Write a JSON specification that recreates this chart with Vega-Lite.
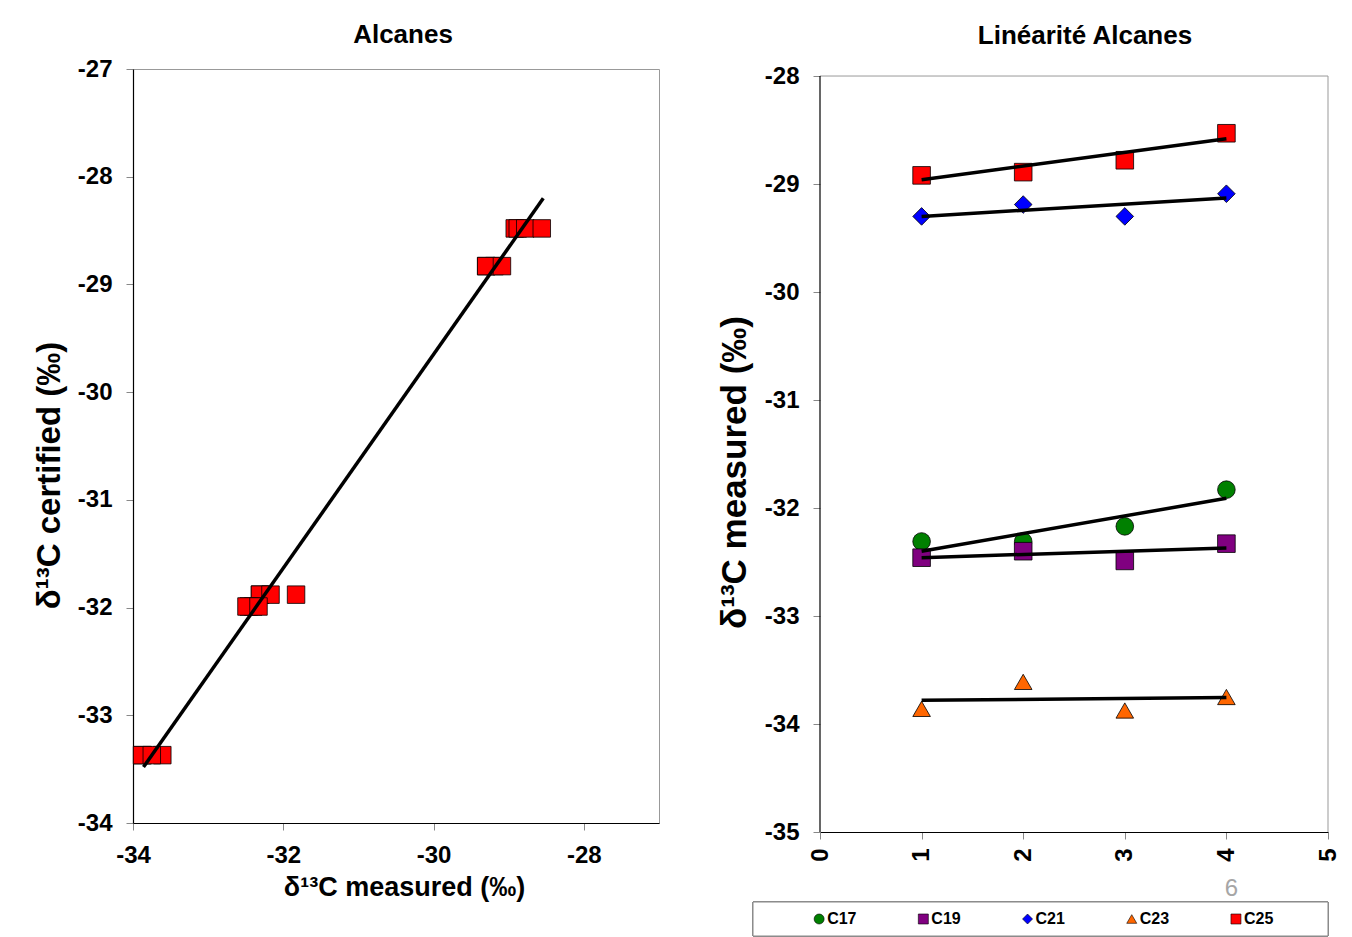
{
  "$schema": "https://vega.github.io/schema/vega-lite/v6.json",
  "background": "white",
  "padding": {"left": 32, "top": 21, "right": 0, "bottom": 0},
  "config": {
    "font": "Liberation Sans",
    "view": {"stroke": "#999999", "strokeWidth": 1},
    "title": {"fontSize": 26, "fontWeight": "bold", "color": "black", "font": "Liberation Sans"},
    "axis": {
      "grid": false,
      "labelFont": "Liberation Sans",
      "labelFontSize": 24,
      "labelFontWeight": "bold",
      "labelColor": "black",
      "labelFlush": false,
      "labelOverlap": false,
      "titleFont": "Liberation Sans",
      "titleFontSize": 27,
      "titleFontWeight": "bold",
      "titleColor": "black",
      "tickColor": "#888888",
      "tickSize": 7,
      "domainColor": "black",
      "domainWidth": 1.2,
      "labelExpr": "datum.value < 0 ? '-' + abs(datum.value) : '' + datum.value"
    }
  },
  "datasets": {
    "left": [
      {"series": "C25", "measured": -28.92, "certified": -28.48},
      {"series": "C25", "measured": -28.88, "certified": -28.48},
      {"series": "C25", "measured": -28.78, "certified": -28.48},
      {"series": "C25", "measured": -28.56, "certified": -28.48},
      {"series": "C21", "measured": -29.30, "certified": -28.83},
      {"series": "C21", "measured": -29.19, "certified": -28.83},
      {"series": "C21", "measured": -29.30, "certified": -28.83},
      {"series": "C21", "measured": -29.09, "certified": -28.83},
      {"series": "C17", "measured": -32.31, "certified": -31.88},
      {"series": "C17", "measured": -32.31, "certified": -31.88},
      {"series": "C17", "measured": -32.17, "certified": -31.88},
      {"series": "C17", "measured": -31.83, "certified": -31.88},
      {"series": "C19", "measured": -32.46, "certified": -31.99},
      {"series": "C19", "measured": -32.40, "certified": -31.99},
      {"series": "C19", "measured": -32.49, "certified": -31.99},
      {"series": "C19", "measured": -32.33, "certified": -31.99},
      {"series": "C23", "measured": -33.87, "certified": -33.37},
      {"series": "C23", "measured": -33.61, "certified": -33.37},
      {"series": "C23", "measured": -33.88, "certified": -33.37},
      {"series": "C23", "measured": -33.75, "certified": -33.37}
    ],
    "leftfit": [
      {"measured": -33.86, "certified": -33.48},
      {"measured": -28.54, "certified": -28.20}
    ],
    "right": [
      {"series": "C17", "level": 1, "measured": -32.31},
      {"series": "C17", "level": 2, "measured": -32.31},
      {"series": "C17", "level": 3, "measured": -32.17},
      {"series": "C17", "level": 4, "measured": -31.83},
      {"series": "C19", "level": 1, "measured": -32.46},
      {"series": "C19", "level": 2, "measured": -32.40},
      {"series": "C19", "level": 3, "measured": -32.49},
      {"series": "C19", "level": 4, "measured": -32.33},
      {"series": "C21", "level": 1, "measured": -29.30},
      {"series": "C21", "level": 2, "measured": -29.19},
      {"series": "C21", "level": 3, "measured": -29.30},
      {"series": "C21", "level": 4, "measured": -29.09},
      {"series": "C23", "level": 1, "measured": -33.86},
      {"series": "C23", "level": 2, "measured": -33.61},
      {"series": "C23", "level": 3, "measured": -33.875},
      {"series": "C23", "level": 4, "measured": -33.75},
      {"series": "C25", "level": 1, "measured": -28.92},
      {"series": "C25", "level": 2, "measured": -28.89},
      {"series": "C25", "level": 3, "measured": -28.78},
      {"series": "C25", "level": 4, "measured": -28.53}
    ],
    "rightfit": [
      {"series": "C17", "level": 1, "measured": -32.40},
      {"series": "C17", "level": 4, "measured": -31.91},
      {"series": "C19", "level": 1, "measured": -32.46},
      {"series": "C19", "level": 4, "measured": -32.37},
      {"series": "C21", "level": 1, "measured": -29.30},
      {"series": "C21", "level": 4, "measured": -29.13},
      {"series": "C23", "level": 1, "measured": -33.78},
      {"series": "C23", "level": 4, "measured": -33.755},
      {"series": "C25", "level": 1, "measured": -28.96},
      {"series": "C25", "level": 4, "measured": -28.58}
    ],
    "legend": [
      {"series": "C17", "row": "legend"},
      {"series": "C19", "row": "legend"},
      {"series": "C21", "row": "legend"},
      {"series": "C23", "row": "legend"},
      {"series": "C25", "row": "legend"}
    ]
  },
  "spacing": 57,
  "hconcat": [
    {
      "width": 526,
      "height": 754,
      "title": {"text": "Alcanes", "offset": 9, "dx": 7},
      "layer": [
        {
          "data": {"name": "left"},
          "mark": {"type": "point", "shape": "square", "filled": true, "fill": "#FF0000", "stroke": "black", "strokeWidth": 0.8, "size": 306, "opacity": 1},
          "encoding": {
            "x": {"field": "measured", "type": "quantitative",
                  "scale": {"domain": [-34, -27], "nice": false, "zero": false},
                  "axis": {"values": [-34, -32, -30, -28], "title": "δ¹³C  measured (‰)", "labelPadding": 13, "titlePadding": 7, "titleX": 271}},
            "y": {"field": "certified", "type": "quantitative",
                  "scale": {"domain": [-34, -27], "nice": false, "zero": false},
                  "axis": {"values": [-34, -33, -32, -31, -30, -29, -28, -27], "title": "δ¹³C  certified (‰)", "titleFontSize": 33, "labelPadding": 14, "titlePadding": 11, "titleY": 406}}
          }
        },
        {
          "data": {"name": "leftfit"},
          "mark": {"type": "line", "color": "black", "strokeWidth": 3.5},
          "encoding": {
            "x": {"field": "measured", "type": "quantitative"},
            "y": {"field": "certified", "type": "quantitative"}
          }
        }
      ]
    },
    {
      "spacing": 0,
      "vconcat": [
        {
          "width": 508,
          "height": 763,
          "view": {"stroke": null},
          "title": {"text": "Linéarité Alcanes", "offset": 15, "dx": 11},
          "layer": [
            {
              "data": {"name": "right"},
              "mark": {"type": "point", "filled": true, "stroke": "black", "strokeWidth": 0.8, "opacity": 1, "size": 310},
              "encoding": {
                "x": {"field": "level", "type": "quantitative",
                      "scale": {"domain": [0, 5], "nice": false},
                      "axis": {"values": [0, 1, 2, 3, 4, 5], "labelAngle": -90, "labelPadding": 9, "title": "6", "titleColor": "#A6A6A6", "titleFontWeight": "normal", "titleFontSize": 24, "titleX": 411, "titlePadding": 15}},
                "y": {"field": "measured", "type": "quantitative",
                      "scale": {"domain": [-35, -27.935], "nice": false, "zero": false},
                      "axis": {"values": [-35, -34, -33, -32, -31, -30, -29, -28], "domain": false, "title": "δ¹³C  measured (‰)", "titleFontSize": 35, "labelPadding": 14, "titlePadding": 12, "titleY": 403}},
                "color": {"field": "series", "type": "nominal",
                          "scale": {"domain": ["C17", "C19", "C21", "C23", "C25"], "range": ["#008000", "#800080", "#0000FF", "#FF6600", "#FF0000"]},
                          "legend": null},
                "shape": {"field": "series", "type": "nominal",
                          "scale": {"domain": ["C17", "C19", "C21", "C23", "C25"], "range": ["circle", "square", "diamond", "triangle-up", "square"]},
                          "legend": null}
              }
            },
            {
              "data": {"name": "rightfit"},
              "mark": {"type": "line", "color": "black", "strokeWidth": 3.5},
              "encoding": {
                "x": {"field": "level", "type": "quantitative"},
                "y": {"field": "measured", "type": "quantitative"},
                "detail": {"field": "series", "type": "nominal"}
              }
            },
            {
              "data": {"values": [{}]},
              "mark": {"type": "rule", "color": "#999999", "strokeWidth": 1},
              "encoding": {"x": {"datum": 0}, "x2": {"datum": 5}, "y": {"datum": -28}}
            },
            {
              "data": {"values": [{}]},
              "mark": {"type": "rule", "color": "#999999", "strokeWidth": 1},
              "encoding": {"x": {"datum": 5}, "y": {"datum": -35}, "y2": {"datum": -28}}
            },
            {
              "data": {"values": [{}]},
              "mark": {"type": "rule", "color": "black", "strokeWidth": 1.2},
              "encoding": {"x": {"datum": 0}, "y": {"datum": -35}, "y2": {"datum": -28}}
            }
          ]
        },
        {
          "width": 508,
          "height": 34,
          "view": {"stroke": null},
          "data": {"name": "legend"},
          "resolve": {"scale": {"x": "independent"}},
          "layer": [
            {
              "mark": {"type": "rect", "fill": "white", "stroke": "#888888", "strokeWidth": 1},
              "encoding": {
                "x": {"datum": 0, "type": "quantitative", "scale": {"domain": [0, 1], "range": [-67, 508], "nice": false, "zero": false}, "axis": null},
                "x2": {"datum": 1},
                "y": {"field": "row", "type": "nominal", "scale": {"range": [-3, 31], "paddingInner": 0, "paddingOuter": 0}, "axis": null}
              }
            },
            {
              "layer": [
                {
                  "mark": {"type": "point", "filled": true, "stroke": "black", "strokeWidth": 0.6, "opacity": 1, "size": 100},
                  "encoding": {
                    "color": {"field": "series", "type": "nominal",
                              "scale": {"domain": ["C17", "C19", "C21", "C23", "C25"], "range": ["#008000", "#800080", "#0000FF", "#FF6600", "#FF0000"]},
                              "legend": null},
                    "shape": {"field": "series", "type": "nominal",
                              "scale": {"domain": ["C17", "C19", "C21", "C23", "C25"], "range": ["circle", "square", "diamond", "triangle-up", "square"]},
                              "legend": null}
                  }
                },
                {
                  "mark": {"type": "text", "align": "left", "baseline": "middle", "dx": 8, "fontSize": 16, "fontWeight": "bold", "color": "black"},
                  "encoding": {
                    "text": {"field": "series", "type": "nominal"}
                  }
                }
              ],
              "encoding": {
                "x": {"field": "series", "type": "nominal",
                      "scale": {"type": "band", "domain": ["C17", "C19", "C21", "C23", "C25"], "range": [-67, 508], "paddingInner": 0, "paddingOuter": 0.259, "align": 0.26},
                      "axis": null},
                "y": {"field": "row", "type": "nominal", "axis": null}
              }
            }
          ]
        }
      ]
    }
  ]
}
